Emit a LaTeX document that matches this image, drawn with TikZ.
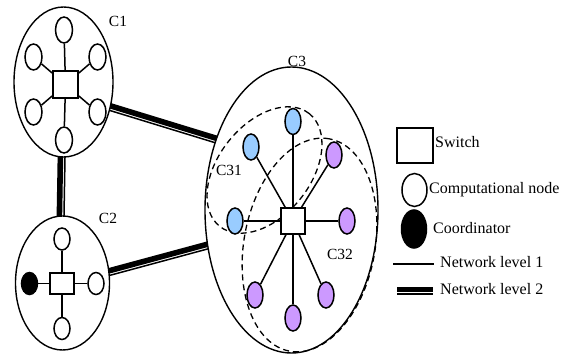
\documentclass[tikz,border=0pt]{standalone}
\usepackage{fontspec}
\setmainfont{Liberation Serif}
\usetikzlibrary{shapes.geometric,calc,backgrounds}
\definecolor{nodeblue}{HTML}{99CCFF}
\definecolor{nodepurple}{HTML}{CC99FF}
\tikzset{
  cluster/.style={draw, ellipse, line width=1.4pt, fill=white, inner sep=0pt},
  swbox/.style={draw, rectangle, line width=1.5pt, fill=white, inner sep=0pt},
  comp/.style={draw, ellipse, line width=1.5pt, fill=white, inner sep=0pt,
               minimum width=17pt, minimum height=26pt},
  smallcomp/.style={comp, minimum width=16pt, minimum height=22pt},
  bigcomp/.style={comp, minimum width=16pt, minimum height=26pt},
  group/.style={draw, ellipse, dash pattern=on 6pt off 4pt, line width=1.3pt, inner sep=0pt},
  lvlone/.style={line width=1.5pt},
  lbl/.style={font=\fontsize{15.5}{18}\selectfont, inner sep=0pt},
  legtxt/.style={font=\fontsize{16}{19}\selectfont, inner sep=0pt, anchor=west},
}
% second-level link: a heavy bar beside a thin rule
\newcommand\leveltwo[3]{%
  \draw[line width=5.6pt, shorten <=#3, shorten >=#3]
    ($(#1)!3.1pt!90:(#2)$) -- ($(#2)!3.1pt!-90:(#1)$);
  \draw[line width=1.5pt, shorten <=#3, shorten >=#3]
    ($(#1)!1.5pt!-90:(#2)$) -- ($(#2)!1.5pt!90:(#1)$);
}
\begin{document}
\begin{tikzpicture}[x=1pt, y=-1pt]
\useasboundingbox (0,0) rectangle (566,356);

% ---- cluster C1 ----
\node[cluster, minimum width=99pt, minimum height=150pt] (c1) at (63.5,82) {};
\node[swbox, minimum width=25pt, minimum height=27pt] (s1) at (65.5,84.5) {};
\node[comp] (c1t)  at (64,30) {};
\node[comp] (c1ul) at (33.5,57) {};
\node[comp] (c1ur) at (97.5,57) {};
\node[comp] (c1ll) at (33.5,112) {};
\node[comp] (c1lr) at (97.5,112) {};
\node[comp] (c1b)  at (64,140) {};
\foreach \n in {c1t,c1ul,c1ur,c1ll,c1lr,c1b} \draw[lvlone] (s1) -- (\n);
\node[lbl] (l1) at (118,21) {C1};

% ---- cluster C2 ----
\node[cluster, minimum width=94pt, minimum height=134pt] (c2) at (62.5,283) {};
\node[swbox, minimum width=24pt, minimum height=21pt] (s2) at (62,283.5) {};
\node[smallcomp] (c2t) at (62,239) {};
\node[smallcomp, fill=black] (c2l) at (29.5,283.5) {};
\node[smallcomp] (c2r) at (96,283.5) {};
\node[smallcomp] (c2b) at (62,328.5) {};
\foreach \n in {c2t,c2l,c2r,c2b} \draw[lvlone] (s2) -- (\n);
\node[lbl] (l2) at (108,218) {C2};

% ---- cluster C3 with its two groups ----
\node[cluster, minimum width=173pt, minimum height=286pt] (c3) at (291.5,210) {};
\node[lbl] (l3) at (297,61) {C3};
\node[group, minimum width=144pt, minimum height=92pt, rotate=51.5] (g31) at (264.5,170) {};
\node[group, minimum width=216pt, minimum height=131pt, rotate=79.4] (g32) at (309.5,245) {};
\node[swbox, minimum width=24pt, minimum height=26pt] (s3) at (293,221) {};
\node[bigcomp, fill=nodeblue] (b1) at (293,121.5) {};
\node[bigcomp, fill=nodeblue] (b2) at (251,147) {};
\node[bigcomp, fill=nodeblue] (b3) at (235,221) {};
\node[bigcomp, fill=nodepurple] (p1) at (334,155) {};
\node[bigcomp, fill=nodepurple] (p2) at (347,221) {};
\node[bigcomp, fill=nodepurple] (p3) at (326,295) {};
\node[bigcomp, fill=nodepurple] (p4) at (293,318) {};
\node[bigcomp, fill=nodepurple] (p5) at (255,295) {};
\foreach \n in {b1,b2,b3,p1,p2,p3,p4,p5} \draw[lvlone] (s3) -- (\n);
\node[lbl] (l31) at (229,170) {C31};
\node[lbl] (l32) at (340,254) {C32};

% ---- second-level links, kept behind the clusters ----
\begin{scope}[on background layer]
  \leveltwo{c1.-30}{c3.138.8}{-5pt}
  \leveltwo{c2.11.8}{c3.204.8}{-5pt}
  \leveltwo{c2.north}{c1.south}{-5pt}
\end{scope}

% ---- legend ----
\node[swbox, minimum width=36pt, minimum height=35pt] (lsw) at (415,145.5) {};
\node[legtxt] (tsw) at (435,142) {Switch};
\node[comp, minimum width=25pt, minimum height=33pt] (lcn) at (414.5,190) {};
\node[legtxt] (tcn) at (429,190) {Computational node};
\node[comp, fill=black, minimum width=25pt, minimum height=38pt] (lco) at (414,229) {};
\node[legtxt] (tco) at (433,228) {Coordinator};
\coordinate (n1a) at (393,264);
\coordinate (n1b) at (434,264);
\draw[lvlone] (n1a) -- (n1b);
\node[legtxt] (tn1) at (440,262) {Network level 1};
\coordinate (n2a) at (397,292.5);
\coordinate (n2b) at (433,292.5);
\leveltwo{n2a}{n2b}{0pt}
\node[legtxt] (tn2) at (440,289) {Network level 2};
\end{tikzpicture}
\end{document}
